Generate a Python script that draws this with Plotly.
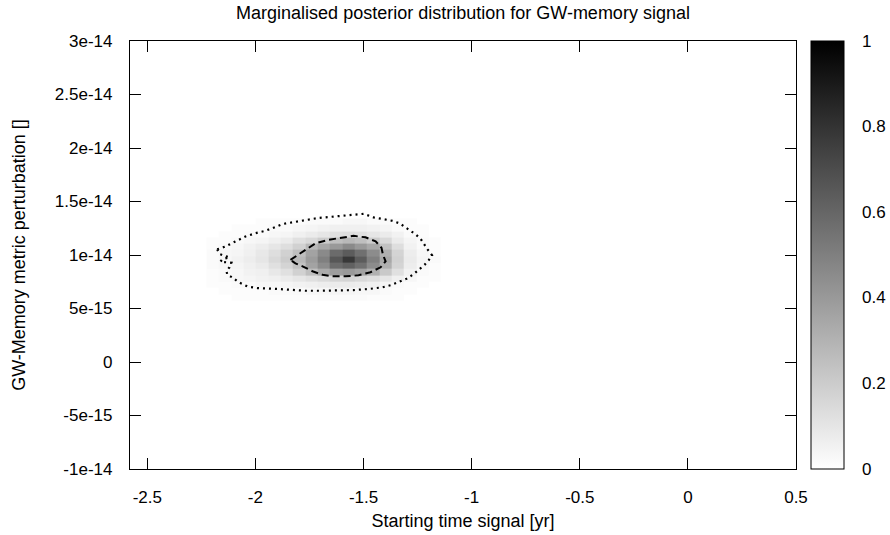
import plotly.graph_objects as go

# ---------------- data ----------------
x_centers = [-2.197, -2.140, -2.083, -2.026, -1.969, -1.912, -1.855, -1.798, -1.741,
             -1.684, -1.627, -1.570, -1.513, -1.456, -1.399, -1.342, -1.285, -1.228, -1.171]
y_centers = [0.605e-14, 0.664e-14, 0.723e-14, 0.782e-14, 0.840e-14, 0.899e-14, 0.958e-14,
             1.017e-14, 1.076e-14, 1.134e-14, 1.193e-14, 1.252e-14, 1.311e-14]

# posterior density (rows bottom -> top)
posterior = [
    [0.00, 0.00, 0.01, 0.01, 0.01, 0.01, 0.01, 0.01, 0.01, 0.02, 0.02, 0.02, 0.02, 0.01, 0.01, 0.01, 0.00, 0.00, 0.00],
    [0.00, 0.01, 0.01, 0.01, 0.01, 0.02, 0.02, 0.02, 0.03, 0.03, 0.04, 0.04, 0.03, 0.03, 0.02, 0.01, 0.01, 0.00, 0.00],
    [0.01, 0.01, 0.02, 0.02, 0.03, 0.03, 0.04, 0.05, 0.06, 0.07, 0.08, 0.08, 0.07, 0.06, 0.04, 0.02, 0.01, 0.01, 0.00],
    [0.01, 0.02, 0.03, 0.04, 0.05, 0.06, 0.08, 0.10, 0.12, 0.14, 0.16, 0.17, 0.15, 0.13, 0.10, 0.06, 0.03, 0.01, 0.01],
    [0.01, 0.02, 0.03, 0.05, 0.06, 0.09, 0.12, 0.18, 0.25, 0.33, 0.38, 0.40, 0.37, 0.31, 0.21, 0.12, 0.05, 0.02, 0.01],
    [0.02, 0.03, 0.04, 0.06, 0.08, 0.12, 0.17, 0.24, 0.36, 0.45, 0.58, 0.62, 0.56, 0.45, 0.31, 0.17, 0.07, 0.03, 0.01],
    [0.02, 0.03, 0.05, 0.07, 0.10, 0.15, 0.20, 0.28, 0.39, 0.50, 0.66, 0.78, 0.64, 0.50, 0.34, 0.18, 0.08, 0.04, 0.02],
    [0.02, 0.03, 0.04, 0.06, 0.09, 0.13, 0.18, 0.25, 0.36, 0.46, 0.58, 0.64, 0.56, 0.45, 0.31, 0.17, 0.07, 0.03, 0.01],
    [0.01, 0.02, 0.03, 0.05, 0.07, 0.10, 0.13, 0.18, 0.28, 0.34, 0.40, 0.46, 0.40, 0.34, 0.24, 0.13, 0.05, 0.02, 0.01],
    [0.01, 0.01, 0.02, 0.03, 0.04, 0.06, 0.08, 0.12, 0.15, 0.20, 0.25, 0.28, 0.25, 0.20, 0.15, 0.08, 0.04, 0.02, 0.01],
    [0.00, 0.01, 0.01, 0.02, 0.02, 0.03, 0.04, 0.06, 0.08, 0.10, 0.12, 0.13, 0.12, 0.10, 0.08, 0.05, 0.02, 0.01, 0.00],
    [0.00, 0.00, 0.01, 0.01, 0.01, 0.02, 0.02, 0.03, 0.04, 0.05, 0.06, 0.06, 0.06, 0.05, 0.04, 0.02, 0.01, 0.01, 0.00],
    [0.00, 0.00, 0.00, 0.00, 0.01, 0.01, 0.01, 0.01, 0.02, 0.02, 0.02, 0.03, 0.03, 0.02, 0.02, 0.01, 0.01, 0.00, 0.00],
]

# outer (dotted) credible contour
outer_x = [-2.177, -2.167, -2.144, -2.120, -2.153, -2.162, -2.134, -2.111, -2.120, -2.134, -2.130,
           -2.106, -2.079, -2.037, -1.991, -1.944, -1.907, -1.838, -1.769, -1.699, -1.620, -1.546,
           -1.468, -1.412, -1.375, -1.338, -1.301, -1.269, -1.241, -1.218, -1.199, -1.183, -1.204,
           -1.220, -1.236, -1.259, -1.287, -1.310, -1.333, -1.366, -1.407, -1.454, -1.500, -1.551,
           -1.606, -1.667, -1.713, -1.759, -1.806, -1.829, -1.875, -1.921, -1.954, -2.000, -2.046,
           -2.093, -2.139, -2.177]
outer_y = [1.053e-14, 1.011e-14, 0.993e-14, 0.979e-14, 0.960e-14, 0.937e-14, 0.932e-14, 0.927e-14,
           0.885e-14, 0.852e-14, 0.815e-14, 0.790e-14, 0.747e-14, 0.706e-14, 0.691e-14, 0.691e-14,
           0.684e-14, 0.675e-14, 0.666e-14, 0.666e-14, 0.666e-14, 0.672e-14, 0.684e-14, 0.698e-14,
           0.717e-14, 0.745e-14, 0.778e-14, 0.820e-14, 0.866e-14, 0.908e-14, 0.951e-14, 0.997e-14,
           1.053e-14, 1.105e-14, 1.151e-14, 1.193e-14, 1.235e-14, 1.268e-14, 1.296e-14, 1.319e-14,
           1.333e-14, 1.352e-14, 1.385e-14, 1.375e-14, 1.371e-14, 1.359e-14, 1.345e-14, 1.329e-14,
           1.315e-14, 1.307e-14, 1.289e-14, 1.251e-14, 1.226e-14, 1.204e-14, 1.173e-14, 1.126e-14,
           1.079e-14, 1.053e-14]

# inner (dashed) credible contour
inner_x = [-1.838, -1.810, -1.769, -1.722, -1.662, -1.597, -1.546, -1.491, -1.444, -1.417, -1.410,
           -1.398, -1.421, -1.468, -1.523, -1.583, -1.644, -1.690, -1.736, -1.782, -1.815, -1.838]
inner_y = [0.955e-14, 0.993e-14, 1.049e-14, 1.109e-14, 1.142e-14, 1.163e-14, 1.179e-14, 1.165e-14,
           1.128e-14, 1.067e-14, 1.002e-14, 0.941e-14, 0.885e-14, 0.839e-14, 0.810e-14, 0.801e-14,
           0.801e-14, 0.815e-14, 0.848e-14, 0.894e-14, 0.922e-14, 0.955e-14]

x_ticks = [-2.5, -2, -1.5, -1, -0.5, 0, 0.5]
x_ticktext = ["-2.5", "-2", "-1.5", "-1", "-0.5", "0", "0.5"]
y_ticks = [-1e-14, -0.5e-14, 0, 0.5e-14, 1e-14, 1.5e-14, 2e-14, 2.5e-14, 3e-14]
y_ticktext = ["-1e-14", "-5e-15", "0", "5e-15", "1e-14", "1.5e-14", "2e-14", "2.5e-14", "3e-14"]
cb_ticks = [0, 0.2, 0.4, 0.6, 0.8, 1]
cb_ticktext = ["0", "0.2", "0.4", "0.6", "0.8", "1"]

FONT = "Liberation Sans, Arial, sans-serif"
FS_TICK = 17
FS_TITLE = 18
PLOT_W = 666
CB_X = 1.0225
CB_W = 33 / PLOT_W

fig = go.Figure()
fig.add_trace(go.Heatmap(
    x=x_centers, y=y_centers, z=posterior,
    zmin=0, zmax=1,
    colorscale=[[0, "rgb(255,255,255)"], [1, "rgb(0,0,0)"]],
    colorbar=dict(
        x=CB_X, xanchor="left", xpad=0, y=0, yanchor="bottom", ypad=0,
        len=1, lenmode="fraction", thickness=33,
        outlinecolor="black", outlinewidth=1,
        tickvals=cb_ticks, ticks="", showticklabels=False,
    ),
    hoverinfo="skip",
))
fig.add_trace(go.Scatter(x=outer_x, y=outer_y, mode="lines", hoverinfo="skip",
                         line=dict(color="black", width=2.2, dash="2px,4px"), showlegend=False))
fig.add_trace(go.Scatter(x=inner_x, y=inner_y, mode="lines", hoverinfo="skip",
                         line=dict(color="black", width=2, dash="7px,4px"), showlegend=False))

# colour-box tick marks (inside, both sides) and labels
for v, t in zip(cb_ticks, cb_ticktext):
    if 0 < v < 1:
        fig.add_shape(type="line", xref="paper", yref="paper",
                      x0=CB_X, x1=CB_X + 6 / PLOT_W, y0=v, y1=v, line=dict(color="black", width=1))
        fig.add_shape(type="line", xref="paper", yref="paper",
                      x0=CB_X + CB_W - 6 / PLOT_W, x1=CB_X + CB_W, y0=v, y1=v,
                      line=dict(color="black", width=1))
    fig.add_annotation(x=CB_X + CB_W + 16 / PLOT_W, y=v, xref="paper", yref="paper",
                       text=t, showarrow=False, xanchor="left", yanchor="middle",
                       font=dict(family=FONT, size=FS_TICK, color="black"))

fig.update_layout(
    width=890, height=535,
    margin=dict(l=130, r=94, t=41, b=66),
    paper_bgcolor="white", plot_bgcolor="white",
    font=dict(family=FONT, size=FS_TICK, color="black"),
    title=dict(text="Marginalised posterior distribution for GW-memory signal",
               x=0.5, xref="paper", xanchor="center", y=1 - 13 / 535, yanchor="middle",
               font=dict(family=FONT, size=FS_TITLE, color="black")),
    showlegend=False,
    xaxis=dict(range=[-2.58, 0.5], tickvals=x_ticks, ticktext=x_ticktext,
               ticks="inside", ticklen=11, tickwidth=1, tickcolor="black",
               showline=True, linecolor="black", linewidth=1.2, mirror="ticks",
               showgrid=False, zeroline=False, ticklabelstandoff=12, automargin=False,
               tickfont=dict(family=FONT, size=FS_TICK, color="black"),
               title=dict(text="Starting time signal [yr]", standoff=8,
                          font=dict(family=FONT, size=FS_TITLE, color="black"))),
    yaxis=dict(range=[-1e-14, 3e-14], tickvals=y_ticks, ticktext=y_ticktext,
               ticks="inside", ticklen=11, tickwidth=1, tickcolor="black",
               showline=True, linecolor="black", linewidth=1.2, mirror="ticks",
               showgrid=False, zeroline=False, ticklabelstandoff=13, automargin=False,
               tickfont=dict(family=FONT, size=FS_TICK, color="black"),
               title=dict(text="GW-Memory metric perturbation []", standoff=24,
                          font=dict(family=FONT, size=FS_TITLE, color="black"))),
)

fig.write_html("out.html", config={"displayModeBar": False},
               post_script="document.body.style.margin='0';")
